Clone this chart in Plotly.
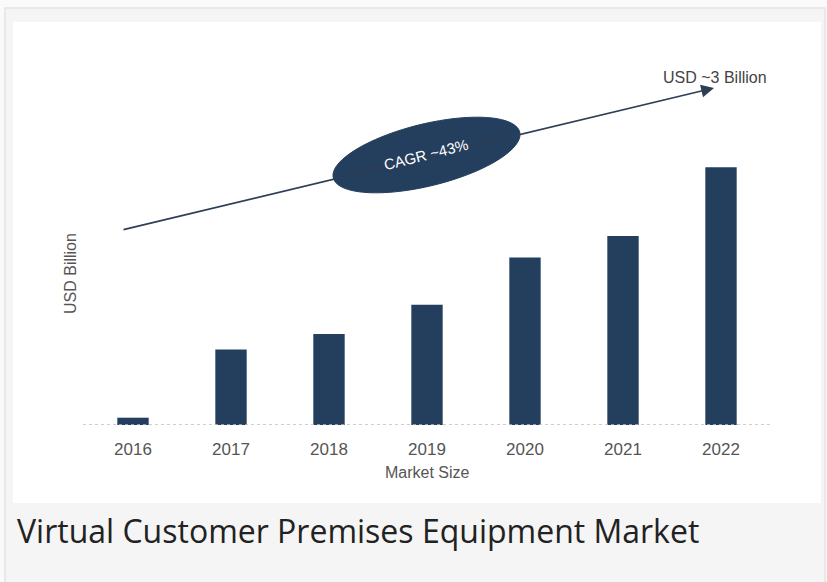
import numpy as np
import plotly.graph_objects as go

years = ["2016", "2017", "2018", "2019", "2020", "2021", "2022"]
market_size = [0.085, 0.88, 1.06, 1.40, 1.95, 2.20, 3.0]
cagr_label = "CAGR ~43%"
end_label = "USD ~3 Billion"
y_title = "USD Billion"
x_title = "Market Size"
caption = "Virtual Customer Premises Equipment Market"

W, H = 827, 582
BAR = "#243e5e"
FONT = "Liberation Sans"


def px(x):
    return x / W


def py(y):
    return 1 - y / H


fig = go.Figure()
fig.add_trace(go.Bar(x=years, y=market_size, marker=dict(color=BAR, line=dict(width=0)),
                     width=0.32, hoverinfo="x+y"))

shapes = []
# outer frame
shapes.append(dict(type="rect", xref="paper", yref="paper", x0=px(5), x1=px(825), y0=py(600), y1=py(8),
                   fillcolor="#f5f5f5", line=dict(color="#e4e4e4", width=1.5), layer="below"))
# white chart panel
shapes.append(dict(type="rect", xref="paper", yref="paper", x0=px(13), x1=px(821), y0=py(503), y1=py(22),
                   fillcolor="#ffffff", line=dict(width=0), layer="below"))
# dotted baseline
shapes.append(dict(type="line", xref="paper", yref="y", x0=px(83), x1=px(770), y0=0, y1=0,
                   line=dict(color="#bfbfbf", width=1.3, dash="dot"), layer="above"))

# rotated ellipse (CAGR badge), built in pixel space
cx, cy, a, b, ang = 426.5, 155.0, 96.0, 31.0, np.deg2rad(13.8)
t = np.linspace(0, 2 * np.pi, 80)
ex = cx + a * np.cos(t) * np.cos(ang) + b * np.sin(t) * np.sin(ang)
ey = cy - a * np.cos(t) * np.sin(ang) + b * np.sin(t) * np.cos(ang)
path = "M " + " L ".join(f"{px(xx):.5f},{py(yy):.5f}" for xx, yy in zip(ex, ey)) + " Z"

annotations = [
    # trend arrow
    dict(xref="paper", yref="paper", x=px(714), y=py(88), ax=122 - 714, ay=230 - 88,
         axref="pixel", ayref="pixel", showarrow=True, arrowhead=2, arrowsize=1.6,
         arrowwidth=1.6, arrowcolor="#2e3f55", text=""),
]

fig.update_layout(shapes=shapes)
fig.add_shape(type="path", xref="paper", yref="paper", path=path, fillcolor=BAR,
              line=dict(color=BAR, width=1), layer="above")

annotations += [
    dict(xref="paper", yref="paper", x=px(426), y=py(155), text=cagr_label, showarrow=False,
         textangle=-14, font=dict(family=FONT, size=15, color="#ffffff"),
         xanchor="center", yanchor="middle"),
    dict(xref="paper", yref="paper", x=px(715), y=py(78), text=end_label, showarrow=False,
         font=dict(family=FONT, size=16, color="#444444"), xanchor="center", yanchor="middle"),
    dict(xref="paper", yref="paper", x=px(70), y=py(274), text=y_title, showarrow=False,
         textangle=-90, font=dict(family=FONT, size=16, color="#555555"),
         xanchor="center", yanchor="middle"),
    dict(xref="paper", yref="paper", x=px(427), y=py(472), text=x_title, showarrow=False,
         font=dict(family=FONT, size=16, color="#555555"), xanchor="center", yanchor="middle"),
    dict(xref="paper", yref="paper", x=px(15), y=py(530), text=caption, showarrow=False,
         font=dict(family="Open Sans", size=32, color="#222222"), xanchor="left", yanchor="middle"),
]

fig.update_layout(
    width=W, height=H,
    margin=dict(l=0, r=0, t=0, b=0),
    paper_bgcolor="#fafafa",
    plot_bgcolor="rgba(0,0,0,0)",
    showlegend=False,
    bargap=0.68,
    annotations=annotations,
    xaxis=dict(domain=[px(84), px(770)], showgrid=False, zeroline=False, showline=False,
               ticks="outside", ticklen=9, tickcolor="rgba(0,0,0,0)",
               tickfont=dict(family=FONT, size=17, color="#555555"), fixedrange=True),
    yaxis=dict(domain=[py(425), py(22)], range=[0, 403 / 85.9], showgrid=False, zeroline=False,
               showline=False, showticklabels=False, ticks="", fixedrange=True),
)

fig.write_html("out.html", config={"displayModeBar": False},
               post_script="document.body.style.margin='0';document.body.style.overflow='hidden';")
